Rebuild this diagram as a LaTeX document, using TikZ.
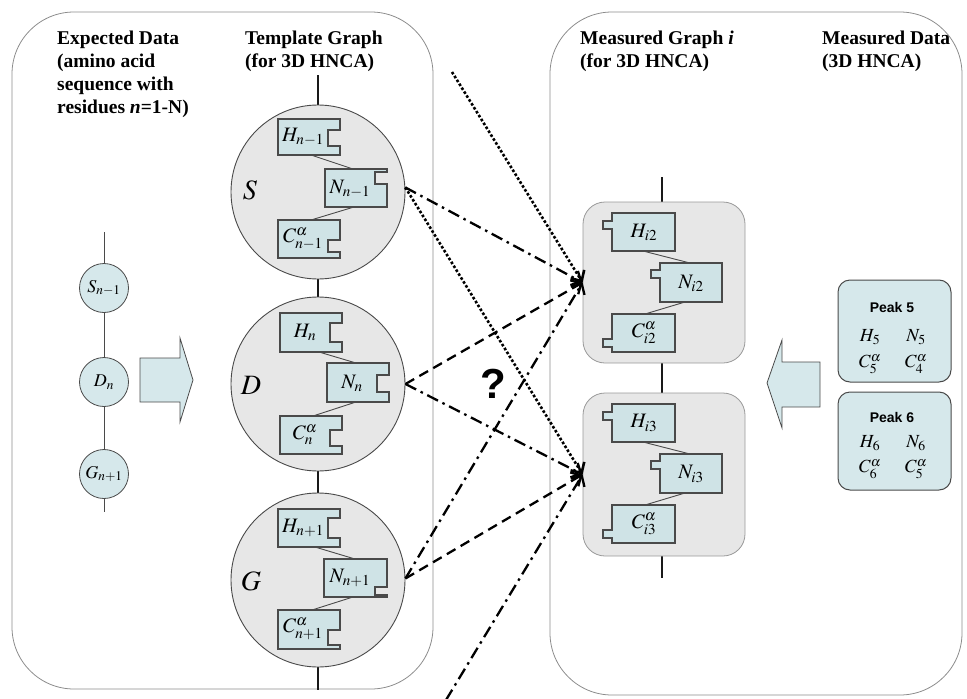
\documentclass[tikz,border=0pt]{standalone}
\usepackage{mathptmx}
\usepackage[no-math]{fontspec}
\setmainfont{Liberation Serif}
\newfontfamily\sansf{Liberation Sans}
\usetikzlibrary{arrows.meta}
\definecolor{boxfill}{HTML}{CFE3E6}
\definecolor{peakfill}{HTML}{D6E8EB}
\definecolor{circfill}{HTML}{E7E7E7}
\definecolor{edge}{HTML}{4A4A4A}
\newcommand{\tmplbox}[6]{\draw[pbox] (#1,#2) -- (#3,#2) -- (#3,#5) -- ({#3-12},#5) -- ({#3-12},#6) -- (#3,#6) -- (#3,#4) -- (#1,#4) -- cycle;}
\newcommand{\measbox}[6]{\draw[pbox] (#1,#2) -- (#3,#2) -- (#3,#4) -- (#1,#4) -- (#1,#6) -- ({#1-9},#6) -- ({#1-9},#5) -- (#1,#5) -- cycle;}
\begin{document}
\begin{tikzpicture}[x=1pt,y=-1pt,
  outer/.style={draw=black!45, line width=0.8pt, rounded corners=62pt},
  bigcirc/.style={circle, draw=edge, fill=circfill, line width=0.9pt, minimum size=174pt, inner sep=0pt},
  smallcirc/.style={circle, draw=edge, fill=peakfill, line width=0.8pt, minimum size=49pt, inner sep=0pt, font=\fontsize{18}{20}\selectfont},
  pbox/.style={draw=edge, fill=boxfill, line width=1.1pt},
  link/.style={draw=edge, line width=0.9pt},
  spine/.style={draw=black!90, line width=2pt},
  thin/.style={draw=edge, line width=0.9pt},
  mgroup/.style={draw=black!40, fill=circfill, line width=0.8pt, rounded corners=22pt, minimum width=162pt, inner sep=0pt},
  peak/.style={draw=edge, fill=peakfill, line width=1pt, rounded corners=12pt, minimum width=113pt, inner sep=0pt},
  lab/.style={inner sep=0pt, font=\fontsize{20.5}{24}\selectfont},
  plab/.style={inner sep=0pt, font=\fontsize{18.5}{22}\selectfont},
  head/.style={inner sep=0pt, anchor=north west, align=left, font=\fontsize{19.5}{23}\selectfont\bfseries},
  big/.style={inner sep=0pt, font=\fontsize{28}{32}\selectfont},
  blockarrow/.style={draw=edge, fill=peakfill, line width=0.8pt},
  conn/.style={line width=2.3pt, -{Straight Barb[length=8pt,width=16pt]}},
  dd/.style={dash pattern=on 12pt off 5pt on 2.5pt off 5pt},
  ds/.style={dash pattern=on 10pt off 6pt},
  dt/.style={line width=2.6pt, dash pattern=on 2.6pt off 2pt}]
\useasboundingbox (0,0) rectangle (967,699);

% outer panels
\draw[outer] (12,12) rectangle (433,689);
\draw[outer] (550,12) rectangle (962,695);

% headers
\node[head] (hexp) at (57,31) {Expected Data\\(amino acid\\sequence with\\residues \textit{n}=1-N)};
\node[head] (htmp) at (245,31) {Template Graph\\(for 3D HNCA)};
\node[head] (hmg) at (580,31) {Measured Graph \textit{i}\\(for 3D HNCA)};
\node[head] (hmd) at (822,31) {Measured Data\\(3D HNCA)};

% expected data chain
\coordinate (chtop) at (104,232);
\coordinate (chbot) at (104,512);
\draw[thin] (chtop) -- (chbot);
\node[smallcirc] (s1) at (104,288) {$S_{n-1}$};
\node[smallcirc] (d1) at (104,382) {$D_n$};
\node[smallcirc] (g1) at (104,474) {$G_{n+1}$};

% block arrows
\draw[blockarrow] (140,358) -- (180,358) -- (180,338) -- (193,380) -- (180,422) -- (180,402) -- (140,402) -- cycle;
\draw[blockarrow] (820,362) -- (782,362) -- (782,340) -- (767,383) -- (782,428) -- (782,407) -- (820,407) -- cycle;

% template graph
\coordinate (ttop) at (318,75);
\coordinate (tbot) at (318,690);
\draw[spine] (ttop) -- (tbot);
\node[bigcirc] (Sbig) at (318,192) {};
\node[bigcirc] (Dbig) at (318,384) {};
\node[bigcirc] (Gbig) at (318,580) {};
\node[big] (Sl) at (250,190) {$S$};
\node[big] (Dl) at (251,385) {$D$};
\node[big] (Gl) at (251,581) {$G$};

% S residue
\coordinate (Sh) at (311,155); \coordinate (Snt) at (353,169);
\coordinate (Snb) at (354,207); \coordinate (Sc) at (311,220);
\draw[link] (Sh) -- (Snt); \draw[link] (Snb) -- (Sc);
\tmplbox{278}{119}{340}{155}{130}{146}
\tmplbox{325}{169}{387}{207}{172}{184}
\tmplbox{278}{220}{340}{258}{240}{252}
\node[lab] (SH) at (303,137) {$H_{n-1}$};
\node[lab] (SN) at (350,189) {$N_{n-1}$};
\node[lab] (SC) at (303,239) {$C^{\alpha}_{n-1}$};

% D residue
\coordinate (Dh) at (319,352); \coordinate (Dnt) at (356,363);
\coordinate (Dnb) at (356,402); \coordinate (Dc) at (313,416);
\draw[link] (Dh) -- (Dnt); \draw[link] (Dnb) -- (Dc);
\tmplbox{280}{313}{342}{352}{323}{342}
\tmplbox{327}{363}{389}{402}{375}{392}
\tmplbox{280}{416}{342}{454}{430}{446}
\node[lab] (DH) at (305,332) {$H_{n}$};
\node[lab] (DN) at (352,383) {$N_{n}$};
\node[lab] (DC) at (305,435) {$C^{\alpha}_{n}$};

% G residue
\coordinate (Gh) at (315,547); \coordinate (Gnt) at (355,559);
\coordinate (Gnb) at (353,597); \coordinate (Gc) at (312,610);
\draw[link] (Gh) -- (Gnt); \draw[link] (Gnb) -- (Gc);
\tmplbox{278}{509}{340}{547}{518}{538}
\tmplbox{324}{559}{387}{597}{587}{595}
\tmplbox{278}{610}{340}{649}{630}{645}
\node[lab] (GH) at (303,528) {$H_{n+1}$};
\node[lab] (GN) at (350,578) {$N_{n+1}$};
\node[lab] (GC) at (303,629) {$C^{\alpha}_{n+1}$};

% measured graph
\coordinate (mtop) at (662,177);
\coordinate (mbot) at (662,578);
\draw[spine] (mtop) -- (mbot);
\node[mgroup, minimum height=161pt] (M1) at (664,282.5) {};
\node[mgroup, minimum height=163pt] (M2) at (664,474.5) {};

\coordinate (M1h) at (643,251); \coordinate (M1nt) at (690,263);
\coordinate (M1nb) at (685,302); \coordinate (M1c) at (645,314);
\draw[link] (M1h) -- (M1nt); \draw[link] (M1nb) -- (M1c);
\measbox{612}{213}{675}{251}{221}{229}
\measbox{660}{263}{722}{302}{270}{278}
\measbox{612}{314}{675}{352}{339}{347}
\node[lab] (M1H) at (644,232) {$H_{i2}$};
\node[lab] (M1N) at (691,283) {$N_{i2}$};
\node[lab] (M1C) at (644,333) {$C^{\alpha}_{i2}$};

\coordinate (M2h) at (643,442); \coordinate (M2nt) at (690,454);
\coordinate (M2nb) at (685,493); \coordinate (M2c) at (645,505);
\draw[link] (M2h) -- (M2nt); \draw[link] (M2nb) -- (M2c);
\measbox{612}{404}{675}{442}{412}{420}
\measbox{660}{454}{722}{493}{461}{469}
\measbox{612}{505}{675}{543}{530}{538}
\node[lab] (M2H) at (644,423) {$H_{i3}$};
\node[lab] (M2N) at (691,474) {$N_{i3}$};
\node[lab] (M2C) at (644,524) {$C^{\alpha}_{i3}$};

% measured data peaks
\node[peak, minimum height=102pt] (P5) at (894.5,331) {};
\node[peak, minimum height=98pt] (P6) at (894.5,441) {};
\node[inner sep=0pt, font=\sansf\bfseries\fontsize{14}{16}\selectfont] (P5t) at (892,307) {Peak 5};
\node[plab] (P5h) at (870,337) {$H_5$};
\node[plab] (P5n) at (916,337) {$N_5$};
\node[plab] (P5c) at (870,364) {$C^{\alpha}_5$};
\node[plab] (P5d) at (916,364) {$C^{\alpha}_4$};
\node[inner sep=0pt, font=\sansf\bfseries\fontsize{14}{16}\selectfont] (P6t) at (892,417) {Peak 6};
\node[plab] (P6h) at (870,443) {$H_6$};
\node[plab] (P6n) at (916,443) {$N_6$};
\node[plab] (P6c) at (870,469) {$C^{\alpha}_6$};
\node[plab] (P6d) at (916,469) {$C^{\alpha}_5$};

% question mark
\node[inner sep=0pt, font=\sansf\bfseries\fontsize{42}{46}\selectfont] (q) at (493,384) {?};

% candidate connections
\coordinate (prevfree) at (452,72);
\coordinate (nextfree) at (446,700);
\draw[conn,dt] (prevfree) -- (M1.west);
\draw[conn,dd] (Sbig.3) -- (M1.west);
\draw[conn,ds] (Dbig.east) -- (M1.west);
\draw[conn,dd] (Gbig.1) -- (M1.west);
\draw[conn,dt] (Sbig.3) -- (M2.west);
\draw[conn,dd] (Dbig.east) -- (M2.west);
\draw[conn,ds] (Gbig.1) -- (M2.west);
\draw[conn,dd] (nextfree) -- (M2.west);
\end{tikzpicture}
\end{document}
